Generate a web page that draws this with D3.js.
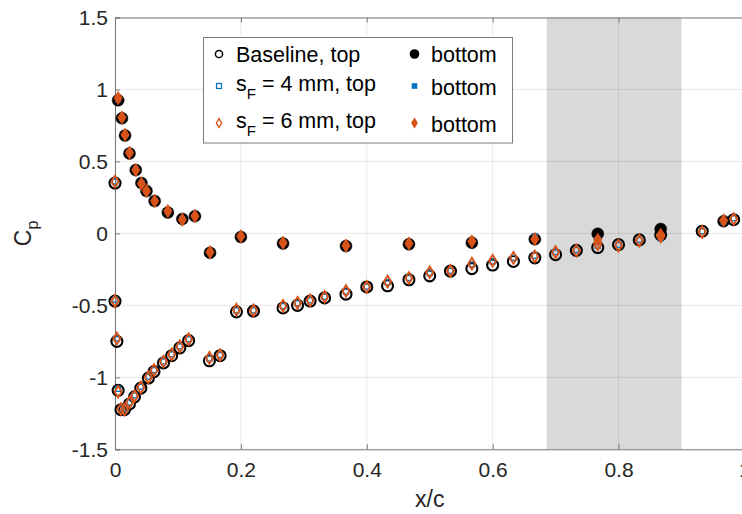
<!DOCTYPE html>
<html>
<head>
<meta charset="utf-8">
<script src="https://cdn.jsdelivr.net/npm/d3@7"></script>
<style>
  body { margin: 0; background: #fff; }
  svg { display: block; font-family: "Liberation Sans", Arial, sans-serif; }
</style>
</head>
<body>
<div id="chart"></div>
<script>
// chordwise taps, suction (top) and pressure (bottom) side
var xTop = [0, 0, 0.003, 0.005, 0.0095, 0.015, 0.023, 0.031, 0.041, 0.053, 0.062, 0.077, 0.090, 0.103, 0.117,
            0.150, 0.167, 0.193, 0.220, 0.267, 0.290, 0.310, 0.333, 0.367, 0.400, 0.433, 0.467, 0.500, 0.533,
            0.567, 0.600, 0.633, 0.667, 0.700, 0.733, 0.767, 0.800, 0.833, 0.867, 0.933, 0.983];
var xBottom = [0.005, 0.011, 0.016, 0.023, 0.033, 0.042, 0.050, 0.063, 0.084, 0.107, 0.127, 0.151, 0.200,
               0.267, 0.367, 0.467, 0.567, 0.667, 0.767, 0.867, 0.967];

var cpBaseTop = [0.35, -0.47, -0.75, -1.09, -1.225, -1.225, -1.185, -1.135, -1.075, -1.005, -0.96, -0.9, -0.85,
                 -0.795, -0.745, -0.885, -0.85, -0.545, -0.54, -0.518, -0.50, -0.47, -0.448, -0.422, -0.372,
                 -0.364, -0.322, -0.295, -0.262, -0.245, -0.22, -0.195, -0.17, -0.148, -0.118, -0.098, -0.078,
                 -0.045, -0.01, 0.015, 0.095];
var cpBaseBottom = [0.925, 0.80, 0.68, 0.555, 0.44, 0.35, 0.295, 0.225, 0.145, 0.10, 0.12, -0.135, -0.025,
                    -0.07, -0.088, -0.075, -0.065, -0.04, -0.003, 0.03, 0.085];

var cpF4Top = [0.36, -0.46, -0.73, -1.08, -1.22, -1.22, -1.175, -1.125, -1.065, -0.995, -0.95, -0.89, -0.84,
               -0.785, -0.735, -0.87, -0.845, -0.535, -0.535, -0.505, -0.485, -0.465, -0.44, -0.405, -0.37,
               -0.34, -0.31, -0.275, -0.26, -0.215, -0.195, -0.17, -0.155, -0.13, -0.115, -0.085, -0.08,
               -0.045, -0.02, 0.015, 0.105];
var cpF4Bottom = [0.93, 0.80, 0.685, 0.56, 0.445, 0.35, 0.295, 0.225, 0.15, 0.10, 0.12, -0.13, -0.02,
                  -0.065, -0.085, -0.07, -0.055, -0.02, -0.04, -0.035, 0.08];

var cpF6Top = [0.36, -0.47, -0.73, -1.10, -1.22, -1.225, -1.175, -1.13, -1.07, -1.0, -0.95, -0.89, -0.84,
               -0.785, -0.735, -0.865, -0.845, -0.53, -0.535, -0.503, -0.482, -0.465, -0.44, -0.40, -0.372,
               -0.335, -0.31, -0.27, -0.26, -0.21, -0.19, -0.17, -0.16, -0.13, -0.12, -0.075, -0.085,
               -0.05, -0.02, 0.01, 0.10];
var cpF6Bottom = [0.94, 0.805, 0.685, 0.56, 0.44, 0.345, 0.295, 0.225, 0.155, 0.095, 0.12, -0.13, -0.02,
                  -0.065, -0.085, -0.07, -0.055, -0.04, -0.045, -0.01, 0.09];

var shadedRange = [0.686, 0.9];
var xTicks = [0, 0.2, 0.4, 0.6, 0.8, 1];
var yTicks = [-1.5, -1, -0.5, 0, 0.5, 1, 1.5];

var W = 742, H = 514;
var plotLeft = 115, plotTop = 17.5, plotRight = 744.4, plotBottom = 449.3;

var x = d3.scaleLinear().domain([0, 1]).range([plotLeft, plotRight]);
var y = d3.scaleLinear().domain([-1.5, 1.5]).range([plotBottom, plotTop]);

var svg = d3.select('#chart').append('svg')
    .attr('width', W)
    .attr('height', H);

// flap region
svg.append('rect')
    .attr('x', x(shadedRange[0]))
    .attr('y', plotTop)
    .attr('width', x(shadedRange[1]) - x(shadedRange[0]))
    .attr('height', plotBottom - plotTop)
    .attr('fill', '#d9d9d9');

// grid
svg.append('g').selectAll('line').data(xTicks).join('line')
    .attr('x1', d => x(d)).attr('x2', d => x(d))
    .attr('y1', plotTop).attr('y2', plotBottom)
    .attr('stroke', '#262626').attr('stroke-opacity', 0.1);
svg.append('g').selectAll('line').data(yTicks).join('line')
    .attr('x1', plotLeft).attr('x2', plotRight)
    .attr('y1', d => y(d)).attr('y2', d => y(d))
    .attr('stroke', '#262626').attr('stroke-opacity', 0.1);

// axes box with inward ticks
var axisColor = '#7a7a7a';
var fmt = d => d3.format('~g')(d).replace('−', '-');
svg.append('g')
    .attr('transform', 'translate(0,' + plotBottom + ')')
    .call(d3.axisBottom(x).tickValues(xTicks).tickSize(-5).tickFormat(fmt))
    .call(g => {
        g.select('.domain').attr('stroke', axisColor);
        g.selectAll('.tick line').attr('stroke', axisColor);
        g.selectAll('.tick text').attr('fill', '#262626').attr('font-size', 21).attr('font-family', null).attr('y', 13);
    });
svg.append('g')
    .attr('transform', 'translate(0,' + plotTop + ')')
    .call(d3.axisTop(x).tickValues(xTicks).tickSize(-5).tickFormat(''))
    .call(g => {
        g.select('.domain').attr('stroke', axisColor);
        g.selectAll('.tick line').attr('stroke', axisColor);
    });
svg.append('g')
    .attr('transform', 'translate(' + plotLeft + ',0)')
    .call(d3.axisLeft(y).tickValues(yTicks).tickSize(-5).tickFormat(fmt))
    .call(g => {
        g.select('.domain').attr('stroke', axisColor);
        g.selectAll('.tick line').attr('stroke', axisColor);
        g.selectAll('.tick text').attr('fill', '#262626').attr('font-size', 21).attr('font-family', null).attr('x', -7);
    });

// markers
var black = '#000000', blue = '#0072BD', orange = '#D95319';

function circles(xs, ys, filled) {
    svg.append('g').selectAll('circle').data(xs).join('circle')
        .attr('cx', d => x(d))
        .attr('cy', (d, i) => y(ys[i]))
        .attr('r', filled ? 6 : 5.5)
        .attr('fill', filled ? black : 'none')
        .attr('stroke', black)
        .attr('stroke-width', filled ? 0.5 : 2.1);
}
function squares(xs, ys, filled) {
    var s = filled ? 5.5 : 5;
    svg.append('g').selectAll('rect').data(xs).join('rect')
        .attr('x', d => x(d) - s / 2)
        .attr('y', (d, i) => y(ys[i]) - s / 2)
        .attr('width', s).attr('height', s)
        .attr('fill', filled ? blue : 'none')
        .attr('stroke', blue)
        .attr('stroke-width', filled ? 0.5 : 1.4);
}
function diamondPath(cx, cy, w, h) {
    return 'M' + cx + ',' + (cy - h) + 'L' + (cx + w) + ',' + cy + 'L' + cx + ',' + (cy + h) + 'L' + (cx - w) + ',' + cy + 'Z';
}
function diamonds(xs, ys, filled) {
    svg.append('g').selectAll('path').data(xs).join('path')
        .attr('d', (d, i) => filled ? diamondPath(x(d), y(ys[i]), 4.3, 6.8) : diamondPath(x(d), y(ys[i]), 3.6, 5.8))
        .attr('fill', filled ? orange : 'none')
        .attr('stroke', orange)
        .attr('stroke-width', filled ? 0.5 : 1.9);
}

circles(xTop, cpBaseTop, false);
circles(xBottom, cpBaseBottom, true);
squares(xTop, cpF4Top, false);
squares(xBottom, cpF4Bottom, true);
diamonds(xTop, cpF6Top, false);
diamonds(xBottom, cpF6Bottom, true);

// axis labels
svg.append('text')
    .attr('x', x(0.5)).attr('y', 507)
    .attr('text-anchor', 'middle')
    .attr('font-size', 23).attr('fill', '#262626')
    .text('x/c');
var yl = svg.append('text')
    .attr('transform', 'translate(31,' + ((plotTop + plotBottom) / 2) + ') rotate(-90)')
    .attr('text-anchor', 'middle')
    .attr('font-size', 23).attr('fill', '#262626');
yl.append('tspan').text('C');
yl.append('tspan').attr('font-size', 16).attr('dy', 7).text('p');

// legend
var lg = svg.append('g');
lg.append('rect')
    .attr('x', 203.5).attr('y', 37.5)
    .attr('width', 309).attr('height', 105.5)
    .attr('fill', '#fff').attr('stroke', '#7a7a7a').attr('stroke-width', 1);

var rowsY = [54, 86, 123];
var col1 = 219, col2 = 414.5;
lg.append('circle').attr('cx', col1).attr('cy', rowsY[0]).attr('r', 3.6)
    .attr('fill', 'none').attr('stroke', black).attr('stroke-width', 1.5);
lg.append('circle').attr('cx', col2).attr('cy', rowsY[0]).attr('r', 4.8).attr('fill', black);
lg.append('rect').attr('x', col1 - 2.5).attr('y', rowsY[1] - 2.5).attr('width', 5).attr('height', 5)
    .attr('fill', 'none').attr('stroke', blue).attr('stroke-width', 1.2);
lg.append('rect').attr('x', col2 - 2.8).attr('y', rowsY[1] - 2.8).attr('width', 5.6).attr('height', 5.6).attr('fill', blue);
lg.append('path').attr('d', diamondPath(col1, rowsY[2], 2.6, 4.4))
    .attr('fill', 'none').attr('stroke', orange).attr('stroke-width', 1.4);
lg.append('path').attr('d', diamondPath(col2, rowsY[2], 3.4, 5.5)).attr('fill', orange);

var lgFont = 21.5;
lg.append('text').attr('x', 236).attr('y', 62).attr('font-size', lgFont).attr('fill', '#000').text('Baseline, top');
function sfLabel(yy, txt) {
    var t = lg.append('text').attr('x', 236).attr('y', yy).attr('font-size', lgFont).attr('fill', '#000');
    t.append('tspan').text('s');
    t.append('tspan').attr('font-size', 15).attr('dy', 8).text('F');
    t.append('tspan').attr('dy', -8).text(txt);
}
sfLabel(90.5, ' = 4 mm, top');
sfLabel(128, ' = 6 mm, top');
[62, 95, 132].forEach(function (yy) {
    lg.append('text').attr('x', 431).attr('y', yy).attr('font-size', lgFont).attr('fill', '#000').text('bottom');
});
</script>
</body>
</html>
